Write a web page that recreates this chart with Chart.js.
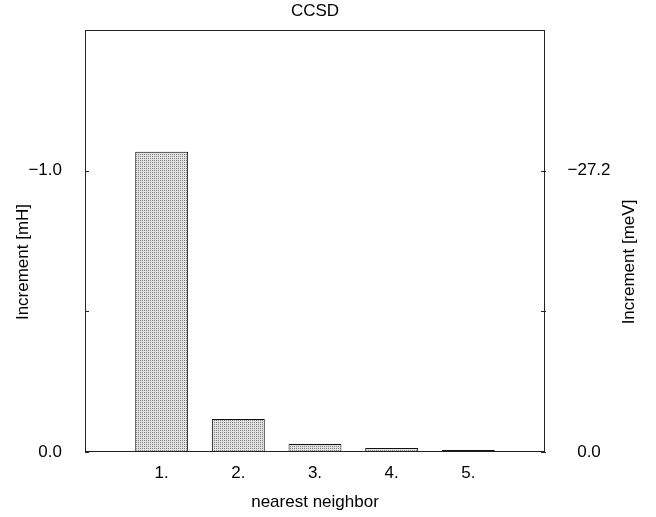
<!DOCTYPE html>
<html>
<head>
<meta charset="utf-8">
<script src="https://cdn.jsdelivr.net/npm/chart.js@4"></script>
<style>
  body { margin: 0; background: #fff; }
</style>
</head>
<body>
<canvas id="chart" width="656" height="517"></canvas>
<script>
// data
const neighbors = ['1.', '2.', '3.', '4.', '5.'];
const neighborPos = [1, 2, 3, 4, 5];
const incrementMH = [-1.067, -0.117, -0.028, -0.014, -0.007];
const mhTicks = [0, -0.5, -1.0];
const mhTickLabels = ['0.0', '', '\u22121.0'];
const mevTicks = [0, -13.6, -27.2];
const mevTickLabels = ['0.0', '', '\u221227.2'];
const MH_TO_MEV = 27.2114;

const FONT = { family: '"Liberation Sans", Arial, sans-serif', size: 17, weight: 'normal' };
Chart.defaults.font.family = FONT.family;
Chart.defaults.font.size = FONT.size;
Chart.defaults.color = '#000';

// dotted gray fill like the gnuplot pattern
function dotPattern() {
    const c = document.createElement('canvas');
    c.width = 2; c.height = 2;
    const g = c.getContext('2d');
    g.fillStyle = '#e2e2e2';
    g.fillRect(0, 0, 2, 2);
    g.fillStyle = '#808080';
    g.fillRect(0, 0, 1, 1);
    return g.createPattern(c, 'repeat');
}

// frame, inward tick marks and the two y titles (both read bottom-to-top)
const framePlugin = {
    id: 'frame',
    afterDraw: function (chart) {
        const ctx = chart.ctx;
        const a = chart.chartArea;
        ctx.save();
        ctx.strokeStyle = '#222';
        ctx.lineWidth = 1;
        ctx.strokeRect(a.left + 0.5, a.top + 0.5, a.right - a.left - 1, a.bottom - a.top - 1);
        ctx.beginPath();
        mhTicks.forEach(function (v) {
            const y = Math.round(chart.scales.y.getPixelForValue(v)) + 0.5;
            ctx.moveTo(a.left, y);
            ctx.lineTo(a.left + 4, y);
        });
        mevTicks.forEach(function (v) {
            const y = Math.round(chart.scales.y2.getPixelForValue(v)) + 0.5;
            ctx.moveTo(a.right - 4, y);
            ctx.lineTo(a.right + 1, y);
        });
        ctx.stroke();

        ctx.fillStyle = '#000';
        ctx.font = FONT.size + 'px ' + FONT.family;
        ctx.textAlign = 'center';
        ctx.textBaseline = 'middle';
        const yMid = (a.top + a.bottom) / 2 + 21;
        [['Increment [mH]', 23], ['Increment [meV]', 629]].forEach(function (t) {
            ctx.save();
            ctx.translate(t[1], yMid);
            ctx.rotate(-Math.PI / 2);
            ctx.fillText(t[0], 0, 0);
            ctx.restore();
        });
        ctx.restore();
    }
};

function fixWidth(w) {
    return function (scale) {
        scale.width = w;
        scale.paddingTop = 0;
        scale.paddingBottom = 0;
    };
}

new Chart(document.getElementById('chart'), {
    type: 'bar',
    data: {
        datasets: [{
            data: neighborPos.map(function (x, i) { return { x: x, y: incrementMH[i] }; }),
            backgroundColor: dotPattern(),
            borderColor: '#111',
            borderWidth: 1,
            barPercentage: 0.69,
            categoryPercentage: 1,
            yAxisID: 'y'
        }]
    },
    options: {
        responsive: false,
        animation: false,
        layout: { padding: 0 },
        plugins: {
            legend: { display: false },
            tooltip: { enabled: false },
            title: {
                display: true,
                text: 'CCSD',
                fullSize: false,
                color: '#000',
                font: FONT,
                padding: { top: 1, bottom: 8.6 }
            }
        },
        scales: {
            x: {
                type: 'linear',
                min: 0,
                max: 6,
                offset: false,
                grid: { display: false, drawTicks: false },
                border: { display: false },
                afterBuildTicks: function (scale) {
                    scale.ticks = neighborPos.map(function (v) { return { value: v }; });
                },
                afterFit: function (scale) {
                    scale.height = 65;
                    scale.paddingLeft = 0;
                    scale.paddingRight = 0;
                },
                ticks: {
                    padding: 11,
                    autoSkip: false,
                    maxRotation: 0,
                    color: '#000',
                    font: FONT,
                    callback: function (v) {
                        const i = neighborPos.indexOf(v);
                        return i >= 0 ? neighbors[i] : '';
                    }
                },
                title: { display: true, text: 'nearest neighbor', color: '#000', font: FONT, padding: 4.8 }
            },
            y: {
                position: 'left',
                reverse: true,
                min: -1.5,
                max: 0,
                grid: { display: false, drawTicks: false },
                border: { display: false },
                afterBuildTicks: function (scale) {
                    scale.ticks = mhTicks.map(function (v) { return { value: v }; });
                },
                afterFit: fixWidth(85),
                ticks: {
                    padding: 23,
                    color: '#000',
                    font: FONT,
                    callback: function (v) {
                        const i = mhTicks.indexOf(v);
                        return i >= 0 ? mhTickLabels[i] : '';
                    }
                }
            },
            y2: {
                position: 'right',
                display: true,
                reverse: true,
                min: -1.5 * MH_TO_MEV,
                max: 0,
                grid: { display: false, drawTicks: false },
                border: { display: false },
                afterBuildTicks: function (scale) {
                    scale.ticks = mevTicks.map(function (v) { return { value: v }; });
                },
                afterFit: fixWidth(111),
                ticks: {
                    padding: 22.5,
                    crossAlign: 'center',
                    color: '#000',
                    font: FONT,
                    callback: function (v) {
                        const i = mevTicks.indexOf(v);
                        return i >= 0 ? mevTickLabels[i] : '';
                    }
                }
            }
        }
    },
    plugins: [framePlugin]
});
</script>
</body>
</html>
